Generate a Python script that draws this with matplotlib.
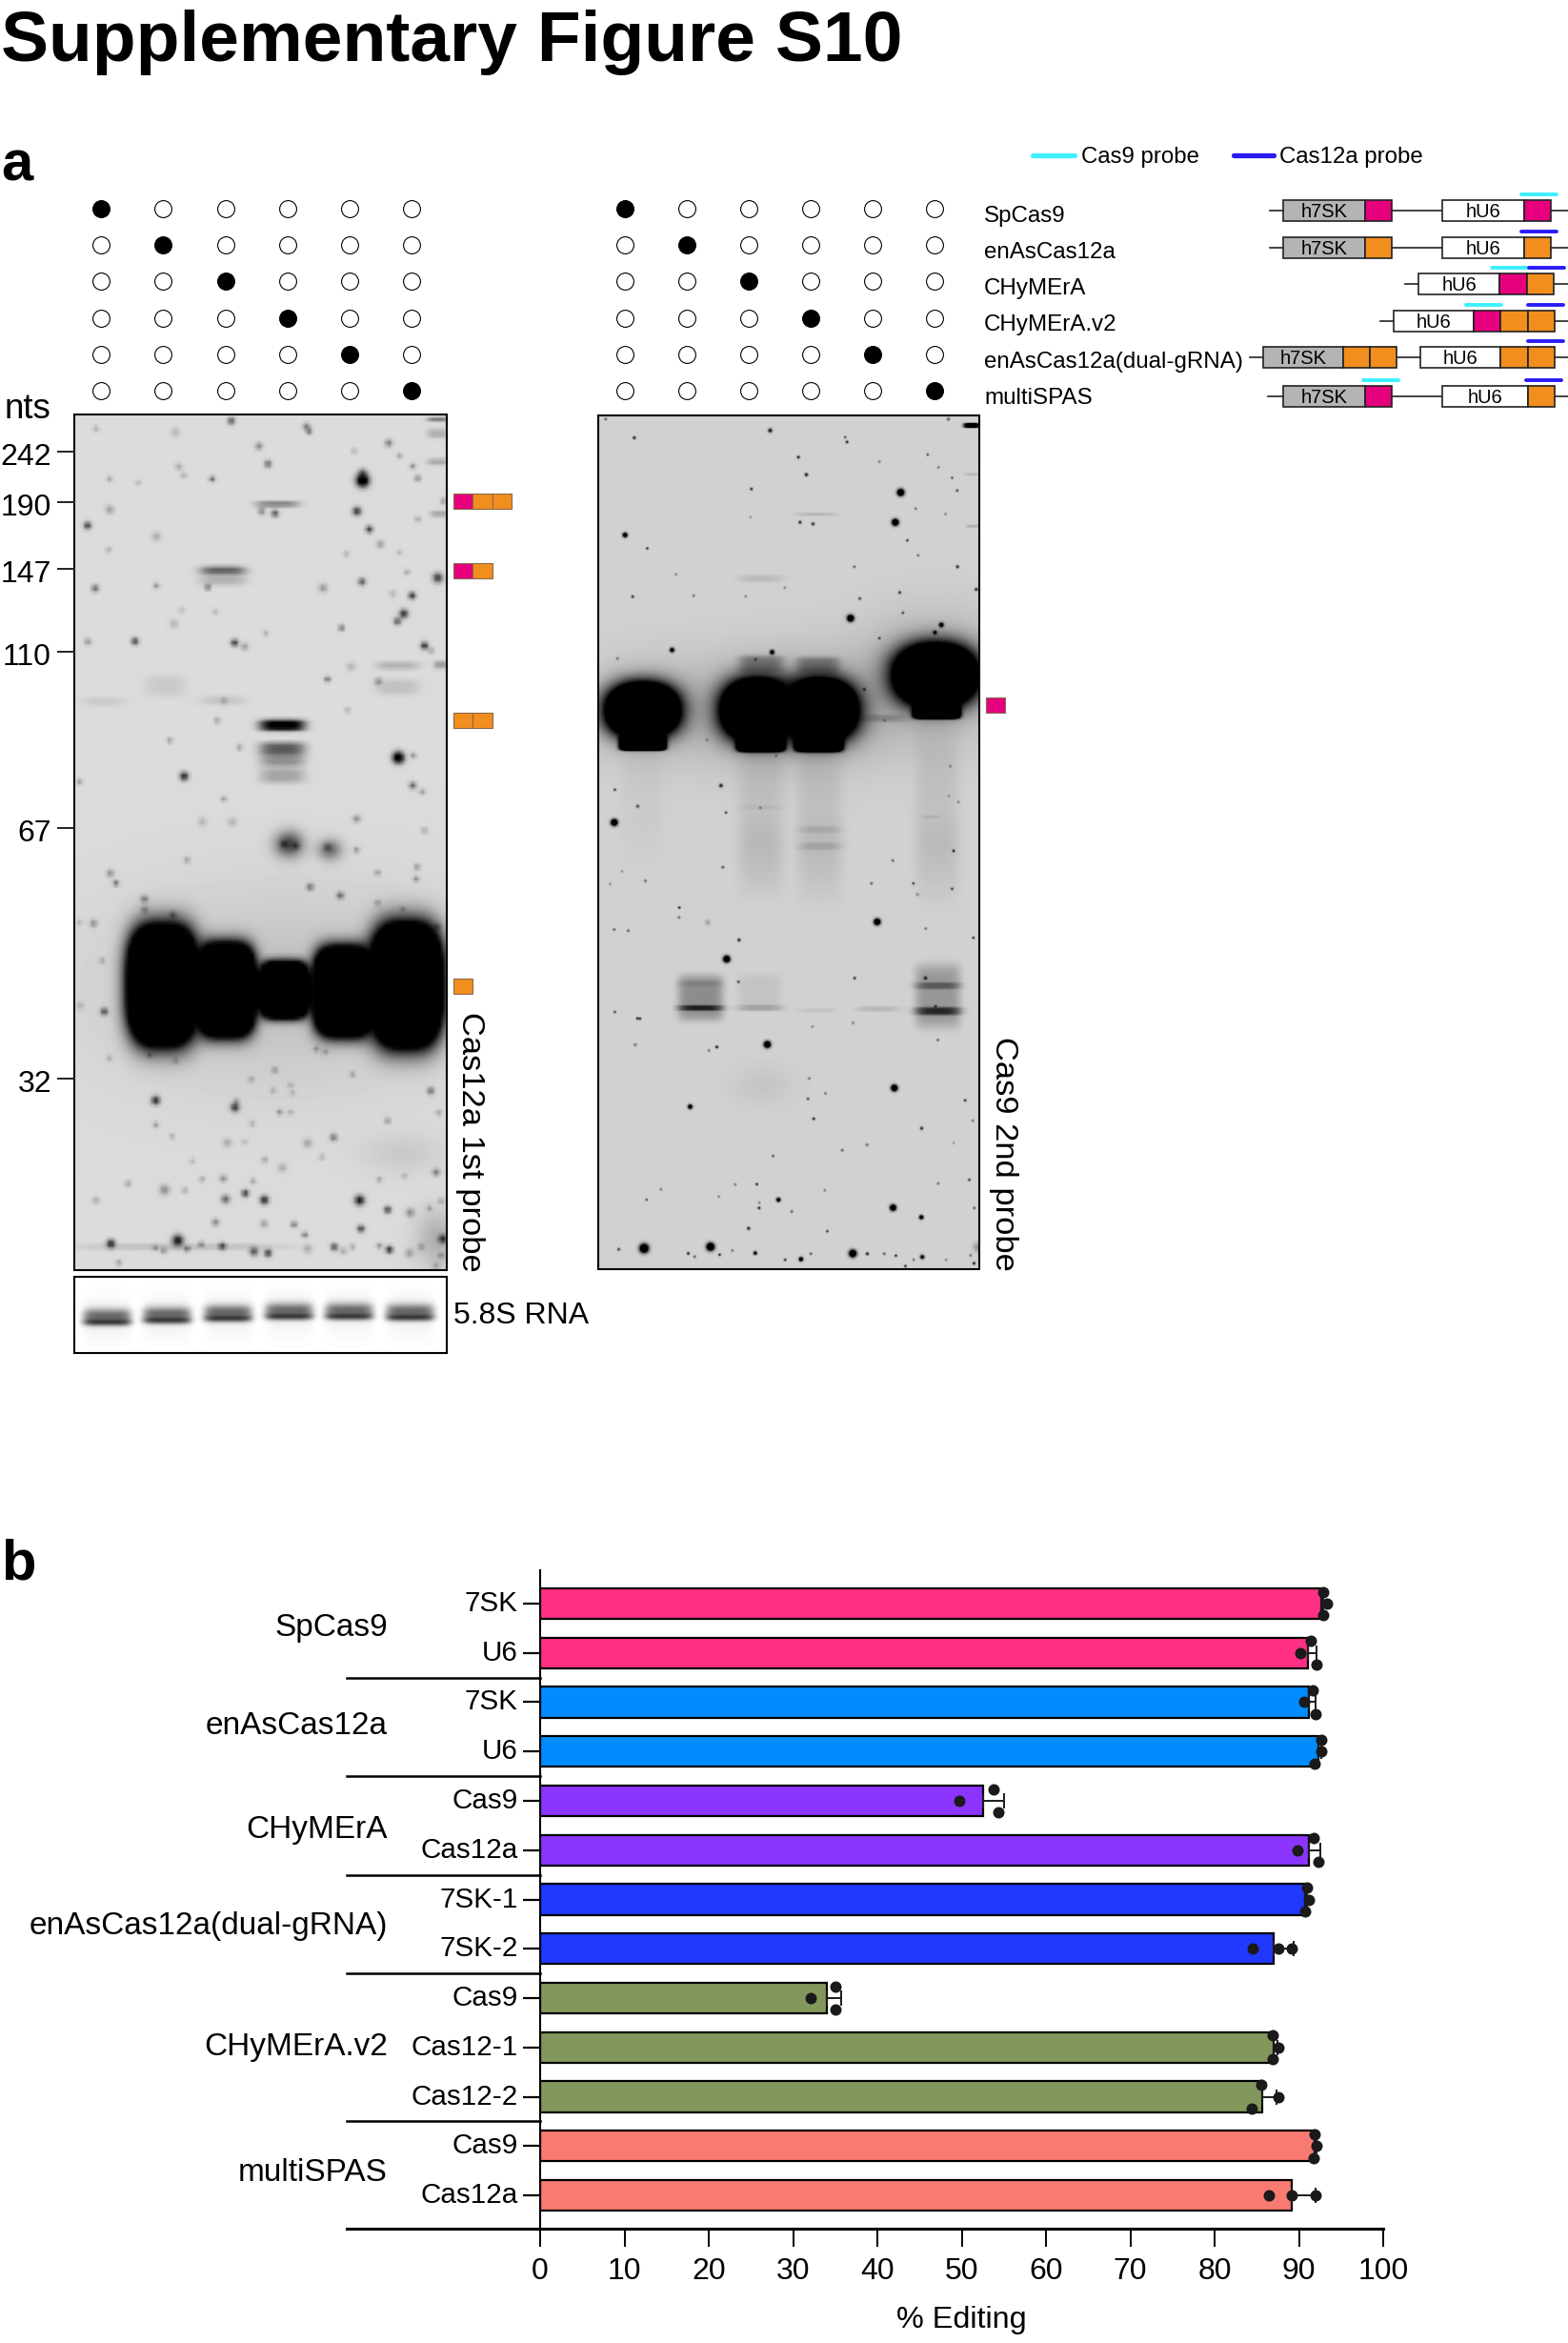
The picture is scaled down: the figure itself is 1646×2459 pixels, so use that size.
import matplotlib
matplotlib.use("Agg")
import matplotlib.pyplot as plt
from matplotlib.patches import Rectangle
from matplotlib.transforms import ScaledTranslation
import numpy as np

plt.rcParams["font.family"] = ["Liberation Sans", "DejaVu Sans"]

# panel b values
bar_labels = ["7SK", "U6", "7SK", "U6", "Cas9", "Cas12a", "7SK-1", "7SK-2",
              "Cas9", "Cas12-1", "Cas12-2", "Cas9", "Cas12a"]
bar_means = [92.7, 91.1, 91.2, 92.3, 52.5, 91.2, 90.7, 87.0, 34.0, 87.0, 85.7, 91.9, 89.2]
rep_top = [92.9, 91.4, 91.6, 92.6, 53.8, 91.8, 91.0, 87.6, 35.0, 86.9, 85.5, 91.9, 89.2]
rep_mid = [93.3, 90.2, 90.6, 92.6, 49.7, 89.8, 91.2, 84.5, 32.1, 87.6, 87.6, 92.1, 86.4]
rep_low = [92.9, 92.1, 92.0, 91.9, 54.3, 92.3, 90.7, 89.1, 35.0, 86.9, 84.4, 91.8, 92.0]
rep_spread = [1, 1, 1, 1, 1, 1, 1, 0, 1, 1, 1, 1, 0]
bar_colors = ["#FF2F85"] * 2 + ["#008CFF"] * 2 + ["#8B35FF"] * 2 + ["#2139FF"] * 2 \
    + ["#83975D"] * 3 + ["#F97A70"] * 2
groups = ["SpCas9", "enAsCas12a", "CHyMErA", "enAsCas12a(dual-gRNA)", "CHyMErA.v2", "multiSPAS"]
group_y = [0.49, 2.49, 4.59, 6.54, 8.99, 11.54]
group_breaks = [1.5, 3.5, 5.5, 7.5, 10.5]

# panel a
constructs = ["SpCas9", "enAsCas12a", "CHyMErA", "CHyMErA.v2", "enAsCas12a(dual-gRNA)", "multiSPAS"]
size_labels = ["242", "190", "147", "110", "67", "32"]
size_y = [474, 527, 597, 684, 869, 1132]

# blot 1: spots as crop x, crop y, strength, sigma
g1_spots_top = [
    (687,60,.7,2.5),(912,78,.5,2.5),(920,93,.6,2),(283,85,.25,2),(520,95,.2,3),(770,140,.45,2.5),
    (1158,130,.5,2.5),(797,196,.6,2.5),(1080,248,1.5,4.5),(1080,225,.6,3),(630,243,.6,2),(1245,241,.5,2),
    (1230,203,.4,2),(530,205,.25,2.5),(545,232,.25,2),(323,243,.3,2),(408,255,.2,2),(1190,170,.3,2),
    (1055,155,.25,2),(1063,345,.85,3),(818,352,.7,2.5),(778,345,.45,2.5),(323,340,.3,3),(1322,313,.4,2),
    (1245,370,.3,2),(257,390,.85,2.5),(1100,402,.8,2.5),(1133,449,.35,2.5),(463,425,.25,3),(320,467,.25,2),
    (1032,480,.25,2),(1190,475,.2,2),(280,588,.6,2.5),(463,580,.4,2),(617,585,.6,2),(962,587,.35,3),
    (1078,567,.7,2.5),(1213,537,.3,2),(1305,555,.8,3.5),(1228,611,.85,2.5),(1170,605,.2,2.5),(1203,668,.9,3),
    (1184,692,.7,2.5),(1017,713,.6,2),(538,657,.2,2),(640,662,.2,2),(515,700,.2,3),(790,730,.25,2),
    (258,757,.35,2.5),(399,755,.8,2.5),(697,760,.85,2.5),(727,772,.35,2.5),(1265,769,.95,2.5),(1285,785,.35,2),
    (975,875,.6,2),(1127,882,.4,2.5),(1045,835,.2,3),(665,942,.3,2),(1035,972,.25,2),(645,1005,.35,2),
    (503,1068,.35,2),(712,1090,.35,2),(1187,1122,1.5,4),(1232,1115,.4,2),(546,1181,.95,3),(1230,1210,.6,2.5),
    (1258,1230,.35,2),(665,1252,.35,2),(233,1198,.35,2),(1062,1315,.4,2.5),(600,1325,.2,3),(690,1325,.2,3),
    (1265,1352,.3,2),(1062,1413,.4,2),(845,1395,.7,2.5),(880,1400,.6,2.5),(975,1405,.5,2.5),
]
g1_spots_low = [
    (555,35,.35,2),(325,77,.4,2.5),(342,108,.6,2),(427,158,.5,2.5),(428,192,.4,2.5),(513,208,.5,2.5),
    (275,235,.4,2.5),(233,232,.2,2),(923,120,.55,2.5),(1013,147,.6,2.5),(1125,75,.35,2),(1125,170,.35,2),
    (1243,57,.4,2),(1240,95,.4,2),(1200,190,.3,2),(1303,247,.5,2.5),(300,352,.3,2),(307,513,.75,2.5),
    (235,495,.2,2.5),(322,660,.25,2),(520,668,.3,2),(443,650,.4,2),(942,632,.35,2),(968,640,.3,2),
    (817,698,.4,2),(1050,711,.3,2),(747,727,.3,2),(865,745,.25,2),(812,762,.25,2),(870,770,.2,2),
    (1284,763,.55,2.5),(461,793,.9,3),(698,815,.85,3),(703,795,.35,2),(832,830,.4,2),(865,830,.25,2),
    (1308,832,.3,2),(1155,857,.4,2),(461,870,.35,2),(750,866,.25,2),(510,907,.25,2),(993,910,.55,2.5),
    (675,927,.25,3),(915,928,.3,3),(727,925,.2,2),(787,980,.35,2),(1300,1020,.5,2.5),(840,1005,.25,3),
    (570,985,.2,2),(958,972,.25,2),(1130,1043,.3,2),(1205,1032,.25,2),(600,1042,.3,2),(663,1040,.4,2.5),
    (752,1048,.3,2),(378,1056,.35,2),(487,1075,.4,3.5),(548,1077,.3,2),(729,1086,.85,2.5),(670,1105,.6,3),
    (786,1107,.95,3),(1071,1108,1,3.5),(282,1108,.25,2.5),(1315,1110,.3,2),(1155,1138,.8,2.5),(1222,1147,.4,3),
    (640,1178,.45,2.5),(785,1182,.35,2.5),(875,1184,.6,2),(1075,1198,.8,2.5),(907,1217,.55,2),(1280,1133,.3,2),
    (327,1245,.95,3),(527,1235,1,4),(555,1262,.6,2),(597,1247,.5,2),(660,1253,.8,2.5),(460,1258,.4,2),
    (485,1267,.45,2),(755,1270,.7,3),(797,1275,.9,2.5),(995,1255,.75,2.5),(1050,1255,.3,2),(1160,1264,.95,2.5),
    (1130,1252,.4,2),(1220,1275,.3,3),(1255,1255,.4,2),(1320,1230,.9,3),(1315,1283,.4,2),(350,1305,.35,2),
    (915,1262,.25,3),(1022,1268,.25,2.5),(1300,1315,.25,2.5),
]
# bands as crop x, crop y, half width, half height, strength, exponent
g1_bands_top = [
    (825,322,65,9,.4,4),(662,530,68,12,.55,4),(662,557,70,22,.2,4),(1185,832,65,12,.2,4),(1185,900,65,25,.12,4),
    (1315,830,22,12,.3,4),(490,895,60,35,.08,4),(305,945,62,15,.08,4),(660,942,68,15,.1,4),
    (1305,55,32,8,.5,4),(1305,100,32,15,.2,4),(1305,190,32,10,.25,4),(1310,352,28,10,.25,4),
    (840,1020,68,18,1.1,4),(840,1095,68,22,.6,4),(840,1132,68,18,.35,4),(840,1178,68,25,.25,4),
    (860,1395,42,40,.7,2),(982,1412,35,32,.5,2),
]
g1_bands_low = [
    (845,440,520,300,.13,2),(482,430,92,165,5,3),(670,445,80,130,5,3.5),(845,445,68,80,5,4),
    (1025,450,82,125,5,3.5),(1210,430,95,170,5,3),(540,1255,310,10,.12,4),(1300,1230,60,90,.2,2),
    (1200,960,120,60,.08,2),
]

# blot 2, same layout
g2_spots_top = [
    (76,58,.6,1),(166,117,.85,1.2),(594,94,.95,1.6),(1155,58,.6,1.2),(830,115,.6,1),(836,130,.85,1.1),
    (683,178,.85,1.2),(708,233,.9,1.3),(1090,170,.6,1),(938,192,.45,1),(1124,210,.45,1),(1167,243,.6,1),
    (1183,283,.7,1),(1005,289,2,2.5),(535,278,.8,1.1),(1052,340,.5,1),(1146,357,.4,1),(988,383,2,2.4),
    (688,383,.85,1.2),(729,388,.85,1.2),(532,367,.3,1),(137,423,1.5,1.8),(207,465,.8,1),(1026,440,.75,1),
    (1060,487,.5,1),(297,547,.4,1),(859,523,.6,1),(1184,523,.85,1.2),(640,589,.4,1),(1002,604,.8,1.1),
    (1243,594,.85,1.2),(161,617,.75,1.1),(353,614,.5,1),(517,616,.4,1),(876,623,.7,1.1),(1012,668,.7,1),
    (847,685,2,2.4),(1133,706,1.5,1.7),(1113,730,1.2,1.5),(938,748,.7,1),(285,785,1.4,1.7),(600,792,1.4,1.7),
    (113,812,.4,1.2),(548,815,.6,1.1),(890,909,.75,1.2),(954,1007,.4,1),(395,1068,.4,1),(439,1212,.9,1.4),
    (105,1225,.75,1),(177,1277,.7,1.2),(455,1297,.7,1),(103,1328,2,2.4),(1161,1151,.4,1),(1187,1264,.4,1),
    (1157,1244,.3,1),(1171,1417,.5,1),(563,1282,.4,1),(613,1118,.4,1),
]
g2_spots_low = [
    (445,59,.7,1),(1172,8,.6,1),(980,38,.6,1),(201,102,.5,1.1),(90,112,.35,1),(127,72,.3,1),(913,110,.6,1),
    (1045,110,.7,1),(1167,127,.65,1.1),(1058,145,.35,1.2),(308,186,.85,1),(307,217,.55,1),(931,231,2,2.3),
    (397,233,.25,2),(103,255,.6,1),(147,259,.6,1),(1084,252,.5,1),(1234,281,.8,1),(496,288,.9,1.2),
    (457,348,2,2.4),(860,408,.75,1.1),(1083,408,.9,1.3),(494,420,.75,1),(1115,497,.8,1),(105,515,.7,1),
    (176,535,.9,1),(184,536,.85,1),(855,549,.35,1.2),(727,561,.4,1),(585,617,2,2.4),(426,625,.95,1.1),
    (401,636,.5,1),(169,618,.45,1.2),(1122,603,.6,1),(985,754,2,2.3),(717,724,.5,1),(768,771,.5,1),
    (713,788,.7,1),(731,851,.85,1.1),(342,813,1.5,1.7),(1208,793,.8,1),(1232,857,.5,1),(1071,881,.85,1.2),
    (899,933,.45,1.2),(1172,927,.3,1),(821,950,.6,1),(603,968,.65,1),(1221,1043,.7,1.1),(1123,1055,.5,1),
    (552,1057,.85,1),(484,1058,.45,1),(250,1073,.45,1),(766,1076,.45,1),(205,1106,.6,1),(432,1096,.4,1),
    (620,1106,1.4,1.6),(560,1115,.4,1),(559,1132,.85,1.1),(662,1143,.6,1),(981,1131,2,2.2),(1237,1132,.6,1),
    (1070,1161,1.5,1.6),(526,1196,.9,1.2),(774,1205,.75,1),(197,1259,2,3.2),(117,1262,.75,1.1),(336,1275,.85,1.1),
    (356,1285,.6,1),(406,1254,2,2.8),(435,1279,.85,1),(475,1266,.5,1),(547,1274,1.2,1.4),(641,1295,.85,1),
    (691,1293,1.5,1.6),(722,1276,.6,1),(854,1275,2,2.6),(900,1276,.9,1.2),(953,1276,.6,1),(990,1282,.85,1),
    (1073,1286,1.2,1.6),(1046,1295,.5,1),(1148,1295,.4,1),(1225,1281,.5,1),(1020,1315,.85,1),(1236,1306,.9,1.1),
    (1248,1255,.3,3.5),
]
g2_bands_top = [
    (193,975,96,72,5,2.2),(193,1075,68,25,5,6),(555,975,96,83,5,2.2),(565,1065,72,38,5,6),(750,975,99,83,5,2.2),
    (747,1065,72,38,5,6),(1115,865,110,83,5,2.2),(1118,970,70,30,5,6),(565,830,70,28,.35,5),(745,835,68,28,.35,5),
    (950,1000,70,12,.2,3),(565,560,70,12,.1,4),(740,358,65,6,.12,4),(1230,232,25,5,.12,4),(1232,395,22,5,.15,4),
    (1228,78,25,8,1.4,4),(565,1290,72,200,.08,4),(750,1290,72,200,.08,4),(1120,1250,70,230,.08,4),(193,1250,68,200,.03,4),
    (750,1350,68,12,.1,4),(750,1403,68,12,.12,4),(565,1280,68,8,.05,4),(1100,1310,30,5,.08,4),
    (193,975,190,150,.15,2),(555,975,270,170,.15,2),(750,975,270,170,.15,2),(1115,865,230,190,.2,2),
]
g2_bands_low = [
    (375,502,68,9,.8,4),(375,470,72,72,.33,6),(375,425,68,10,.12,4),(562,502,70,10,.2,4),(562,450,70,55,.07,6),
    (745,510,62,8,.06,4),(935,505,68,9,.12,4),(1122,512,70,13,.75,4),(1122,432,70,11,.42,4),(1122,465,72,100,.28,6),
    (570,745,95,65,.06,2),(565,40,72,120,.05,4),(750,50,72,130,.05,4),(1120,50,70,130,.05,4),
]

# 5.8S loading control: lane centre x, band y
rna_lane_x = [112, 175, 239, 303, 366, 430]
rna_lane_y = [1384, 1382, 1380, 1378, 1378, 1379]

# schematic, in crop coordinates of the construct panel
schema_rows = [
    (272, 808, [(842,1050,"g","h7SK"),(1050,1118,"p",""),(1248,1455,"w","hU6"),(1455,1525,"p","")],
     [(1450,1538,222,"c")]),
    (390, 808, [(842,1050,"g","h7SK"),(1050,1118,"o",""),(1248,1455,"w","hU6"),(1455,1525,"o","")],
     [(1450,1538,340,"b")]),
    (505, 1153, [(1186,1394,"w","hU6"),(1394,1463,"p",""),(1463,1532,"o","")],
     [(1373,1463,454,"c"),(1468,1558,454,"b")]),
    (620, 1090, [(1123,1328,"w","hU6"),(1328,1396,"p",""),(1396,1465,"o",""),(1465,1534,"o","")],
     [(1307,1397,569,"c"),(1465,1555,569,"b")]),
    (734, 757, [(790,995,"g","h7SK"),(995,1064,"o",""),(1064,1132,"o",""),(1191,1396,"w","hU6"),(1396,1465,"o",""),(1465,1533,"o","")],
     [(1465,1555,683,"b")]),
    (858, 803, [(842,1052,"g","h7SK"),(1052,1120,"p",""),(1248,1465,"w","hU6"),(1465,1533,"o","")],
     [(1045,1135,808,"c"),(1460,1550,808,"b")]),
]
schema_col = {"g": "#B4B4B6", "w": "white", "p": "#E6007E", "o": "#F28E1E", "c": "#3DF0FF", "b": "#2A1CF5"}


def blot(x0, x1, y0, y1, step, bg, band_sets, spot_sets):
    xs = np.arange(x0, x1, step, dtype=float)
    ys = np.arange(y0, y1, step, dtype=float)
    X, Y = np.meshgrid(xs, ys)
    T = np.ones_like(X)
    for bands, fx, ox, oy in band_sets:
        for cx, cy, hw, hh, s, p in bands:
            r = np.abs((X - ox - cx / fx) / (hw / fx)) ** p + np.abs((Y - oy - cy / 3) / (hh / 3)) ** p
            T *= 1 - np.clip(s * np.exp(-r), 0, 1)
    for spots, fx, ox, oy in spot_sets:
        for cx, cy, s, sig in spots:
            d2 = (X - ox - cx / fx) ** 2 + (Y - oy - cy / 3) ** 2
            T *= 1 - np.clip(s * np.exp(-d2 / (2 * sig ** 2)), 0, 1)
    return bg * T


fig = plt.figure(figsize=(16.46, 24.59), dpi=100)
pg = fig.add_axes([0, 0, 1, 1])

# blots
img1 = blot(78, 470, 435, 1333, 3.5, 0.86,
            [(g1_bands_top, 2.85, 0, 420), (g1_bands_low, 2.85, 0, 890)],
            [(g1_spots_top, 2.85, 0, 420), (g1_spots_low, 2.85, 0, 890)])
pg.imshow(img1, cmap="gray", vmin=0, vmax=1, extent=(78, 470, 1333, 435), aspect="auto", interpolation="bilinear")

img2 = blot(628, 1028, 436, 1332, 1, 0.82,
            [(g2_bands_top, 3, 610, 420), (g2_bands_low, 3, 610, 890)],
            [(g2_spots_top, 3, 610, 420), (g2_spots_low, 3, 610, 890)])
pg.imshow(img2, cmap="gray", vmin=0, vmax=1, extent=(628, 1028, 1332, 436), aspect="auto", interpolation="bilinear")

rna_x, rna_y = np.meshgrid(np.arange(78, 470, 1.0), np.arange(1340, 1420, 1.0))
rna = np.ones_like(rna_x)
for lx, ly in zip(rna_lane_x, rna_lane_y):
    wide = np.exp(-np.abs((rna_x - lx) / 25) ** 6)
    rna *= 1 - 0.55 * wide * np.exp(-((rna_y - ly + 4) / 7) ** 2)
    rna *= 1 - 0.7 * wide * np.exp(-((rna_y - ly - 3) / 4) ** 2)
    rna *= 1 - 0.06 * wide * np.exp(-((rna_y - ly) / 22) ** 2)
pg.imshow(rna, cmap="gray", vmin=0, vmax=1, extent=(78, 470, 1420, 1340), aspect="auto", interpolation="bilinear")

for x0, y0, x1, y1 in [(78, 435, 469.5, 1333), (628, 436, 1028, 1332), (78, 1340, 469.5, 1420)]:
    pg.add_patch(Rectangle((x0, y0), x1 - x0, y1 - y0, fill=False, ec="black", lw=1.5))

# dot matrices
dot_cols = [[106, 171, 236.6, 301.7, 366.7, 431.8], [655.6, 720.7, 785.7, 850.8, 916.5, 981.5]]
dot_rows = [218.7, 256.7, 295, 333.7, 372, 410.3]
lane_on = np.eye(6)
for cols in dot_cols:
    for i, ry in enumerate(dot_rows):
        for j, cx in enumerate(cols):
            pg.scatter([cx], [ry], s=165, c="black" if lane_on[i, j] else "white", edgecolors="black", linewidths=0.8)

# size ladder
pg.text(5, 439, "nts", fontsize=26.5, ha="left", va="baseline")
for lab, y in zip(size_labels, size_y):
    pg.plot([61, 78], [y, y], color="#222222", lw=1.4)
    pg.text(54, y + 6, lab, fontsize=23, ha="right", va="center")

# small guide marks next to the blots
marks = [(518, ["p", "o", "o"], 476), (591, ["p", "o"], 476), (748, ["o", "o"], 476), (1027, ["o"], 476), (732, ["p"], 1035)]
for y, cols, x0 in marks:
    for k, c in enumerate(cols):
        pg.add_patch(Rectangle((x0 + k * 20.3, y), 20.3, 16, fc=schema_col[c], ec="#8a6a4a", lw=0.8))

pg.text(494, 1062, "Cas12a 1st probe", rotation=270, fontsize=24.8, ha="center", va="top")
pg.text(1054, 1088, "Cas9 2nd probe", rotation=270, fontsize=24.8, ha="center", va="top")
pg.text(476, 1381, "5.8S RNA", fontsize=23, ha="left", va="center")

# construct panel
def sx(z):
    return 1000 + z / 2.427


def sy(z):
    return 130 + z / 3


pg.plot([1084.5, 1128], [163, 163], color=schema_col["c"], lw=3.8, solid_capstyle="round")
pg.plot([1295, 1337], [163, 163], color=schema_col["b"], lw=3.8, solid_capstyle="round")
pg.text(1135, 165, "Cas9 probe", fontsize=17.3, ha="left", va="center")
pg.text(1343, 165, "Cas12a probe", fontsize=17.3, ha="left", va="center")

name_y = [227, 265, 303, 341, 380, 418]
for name, y in zip(constructs, name_y):
    pg.text(1033, y, name, fontsize=17.4, ha="left", va="center")

for yc, line_x, boxes, probes in schema_rows:
    pg.plot([sx(line_x), sx(1568)], [sy(yc), sy(yc)], color="#222222", lw=1.2, zorder=2)
    for b0, b1, c, lab in boxes:
        pg.add_patch(Rectangle((sx(b0), sy(yc) - 11), (b1 - b0) / 2.427, 22, fc=schema_col[c], ec="#222222", lw=1.2, zorder=3))
        if lab:
            pg.text(sx((b0 + b1) / 2), sy(yc) + 1.5, lab, fontsize=14.5, ha="center", va="center", zorder=4)
    for p0, p1, py, c in probes:
        pg.plot([sx(p0), sx(p1)], [sy(py), sy(py)], color=schema_col[c], lw=2.8, solid_capstyle="round")

# panel letters and title
pg.text(1, 64, "Supplementary Figure S10", fontsize=54, fontweight="bold", ha="left", va="baseline")
pg.text(1, 190, "a", fontsize=43, fontweight="bold", ha="left", va="baseline")
pg.text(1, 1657, "b", fontsize=43, fontweight="bold", ha="left", va="baseline")

pg.set_xlim(0, 1646)
pg.set_ylim(2459, 0)
pg.axis("off")

# bar panel
W, H = 1646.0, 2459.0
ax = fig.add_axes([567 / W, 1 - 2339 / H, (1452 - 567) / W, (2339 - 1648) / H])
ax.patch.set_alpha(0)
pos = np.arange(len(bar_means))
ax.barh(pos, bar_means, height=0.62, color=bar_colors, edgecolor="black", linewidth=1.6, zorder=2)
reps = np.array([rep_top, rep_mid, rep_low])
sd = reps.std(axis=0, ddof=1)
ax.errorbar(bar_means, pos, xerr=[np.zeros(len(sd)), sd], fmt="none", ecolor="#1a1a1a",
            elinewidth=1.4, capsize=5.8, capthick=1.4, zorder=3)
for offset, vals in zip([-0.24, 0, 0.24], reps):
    ax.scatter(vals, pos + offset * np.array(rep_spread), s=75, color="#1a1a1a", zorder=4, clip_on=False, linewidths=0)

ax.set_xlim(0, 100)
ax.set_ylim(12.676, -0.676)
ax.set_yticks(pos)
ax.set_yticklabels(bar_labels, fontsize=21.3)
ax.set_xticks(range(0, 101, 10))
ax.tick_params(axis="x", length=13.7, width=1.4, labelsize=23, pad=8)
ax.tick_params(axis="y", length=13, width=1.6, pad=4)
ax.set_xlabel("% Editing", fontsize=23.3, labelpad=15)
for t in ax.get_yticklabels():
    t.set_transform(t.get_transform() + ScaledTranslation(0, 3 / 100, fig.dpi_scale_trans))
for s in ["top", "right"]:
    ax.spines[s].set_visible(False)
ax.spines["left"].set_linewidth(1.5)
ax.spines["bottom"].set_visible(False)

yaxis_tr = ax.get_yaxis_transform()
for y in group_breaks:
    ax.plot([-0.229, 0], [y, y], transform=yaxis_tr, color="black", lw=1.8, clip_on=False)
ax.plot([-0.229, 1], [12.676, 12.676], transform=yaxis_tr, color="black", lw=2.2, clip_on=False)
for g, y in zip(groups, group_y):
    ax.text(-0.181, y, g, transform=yaxis_tr, fontsize=24, ha="right", va="center")

fig.savefig("out.png", dpi=100)
